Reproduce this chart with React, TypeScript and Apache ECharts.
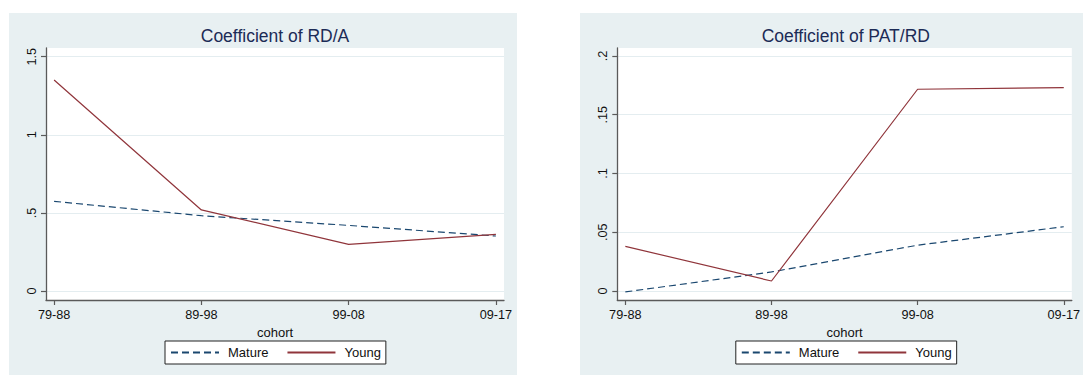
import React, { useEffect, useRef } from "react";
import * as echarts from "echarts";

const categories = ["79-88", "89-98", "99-08", "09-17"];
const seriesNames = ["Mature", "Young"];
const rdaMature = [0.574, 0.482, 0.42, 0.352];
const rdaYoung = [1.351, 0.519, 0.299, 0.363];
const patMature = [-0.0008, 0.0162, 0.039, 0.0547];
const patYoung = [0.038, 0.0085, 0.1717, 0.173];
const rdaTicks = [0, 0.5, 1, 1.5];
const patTicks = [0, 0.05, 0.1, 0.15, 0.2];
const xTicks = [0, 1, 2, 3];
const titles = ["Coefficient of RD/A", "Coefficient of PAT/RD"];

const FONT = "'Liberation Sans', Arial, sans-serif";
const BG = "#e8f0f2";
const NAVY = "#1a476f";
const MAROON = "#90353b";
const AXIS = "#5a5a5a";
const GRID = "#e4edf0";
const TEXT = "#111111";

const stataFmt = (v: number) => {
  const s = String(Math.round(v * 1000) / 1000);
  if (s.startsWith("0.")) return s.slice(1);
  if (s.startsWith("-0.")) return "-" + s.slice(2);
  return s;
};

const toPairs = (arr: number[]) => arr.map((v, i) => [i, v]);

export default function App() {
  const ref = useRef<HTMLDivElement>(null);
  useEffect(() => {
    if (!ref.current) return;
    const chart = echarts.init(ref.current, undefined, { renderer: "svg" });

    const panels = [
      { left: 46, width: 458, ymin: -0.0576, ymax: 1.5557, ticks: rdaTicks, mature: rdaMature, young: rdaYoung, bgX: 9, bgW: 508 },
      { left: 617.3, width: 457, ymin: -0.00766, ymax: 0.2068, ticks: patTicks, mature: patMature, young: patYoung, bgX: 580, bgW: 503 },
    ];

    const option: any = {
      animation: false,
      textStyle: { fontFamily: FONT },
      graphic: panels.map((p) => ({
        type: "rect",
        z: -10,
        silent: true,
        shape: { x: p.bgX, y: 13, width: p.bgW, height: 362 },
        style: { fill: BG },
      })),
      title: panels.map((p, i) => ({
        text: titles[i],
        left: p.left + p.width / 2,
        top: 27,
        textAlign: "center",
        padding: 0,
        textStyle: { fontFamily: FONT, fontSize: 17.5, fontWeight: "normal", color: "#1c2b56" },
      })),
      legend: panels.map((p, i) => ({
        data: seriesNames,
        left: p.left + p.width / 2 - 110,
        top: 341,
        orient: "horizontal",
        padding: [5, 5, 5, 5],
        itemWidth: 48,
        itemHeight: 14,
        itemGap: 18,
        borderColor: "#222",
        borderWidth: 1,
        borderRadius: 0,
        backgroundColor: "#ffffff",
        itemStyle: { opacity: 0, borderWidth: 0 },
        textStyle: { fontFamily: FONT, fontSize: 13, color: TEXT, padding: [0, 0, 0, 4] },
        selectedMode: false,
        seriesIndex: [i * 2, i * 2 + 1],
      })),
      grid: panels.map((p) => ({
        left: p.left,
        width: p.width,
        top: 48,
        height: 252,
        show: true,
        backgroundColor: "#ffffff",
        borderWidth: 0,
        containLabel: false,
      })),
      xAxis: panels.map((p, i) => ({
        type: "value",
        gridIndex: i,
        min: -0.055,
        max: 3.055,
        name: "cohort",
        nameLocation: "middle",
        nameGap: 20,
        nameTextStyle: { fontFamily: FONT, fontSize: 13, color: TEXT },
        axisLine: { show: true, onZero: false, lineStyle: { color: AXIS, width: 1.3 } },
        axisTick: { show: true, length: 5, customValues: xTicks, lineStyle: { color: AXIS, width: 1.2 } },
        axisLabel: {
          show: true,
          customValues: xTicks,
          margin: 8,
          fontFamily: FONT,
          fontSize: 12.7,
          color: TEXT,
          formatter: (v: number) => categories[Math.round(v)] ?? "",
        },
        splitLine: { show: false },
      })),
      yAxis: panels.map((p, i) => ({
        type: "value",
        gridIndex: i,
        min: p.ymin,
        max: p.ymax,
        axisLine: { show: true, onZero: false, lineStyle: { color: AXIS, width: 1.3 } },
        axisTick: { show: true, length: 5, customValues: p.ticks, lineStyle: { color: AXIS, width: 1.2 } },
        axisLabel: {
          show: true,
          customValues: p.ticks,
          rotate: 90,
          margin: 8,
          fontFamily: FONT,
          fontSize: 12.7,
          color: TEXT,
          formatter: (v: number) => stataFmt(v),
        },
        splitLine: { show: true, lineStyle: { color: GRID, width: 1.2 } },
      })),
      series: panels.flatMap((p, i) => [
        {
          name: seriesNames[0],
          type: "line",
          xAxisIndex: i,
          yAxisIndex: i,
          data: toPairs(p.mature),
          symbol: "none",
          lineStyle: { color: NAVY, width: 1.2, type: [7, 4] },
          itemStyle: { color: NAVY },
          z: 3,
        },
        {
          name: seriesNames[1],
          type: "line",
          xAxisIndex: i,
          yAxisIndex: i,
          data: toPairs(p.young),
          symbol: "none",
          lineStyle: { color: MAROON, width: 1.2 },
          itemStyle: { color: MAROON },
          z: 4,
        },
      ]),
    };
    chart.setOption(option);
    return () => chart.dispose();
  }, []);
  return (
    <div
      ref={ref}
      style={{ position: "absolute", left: 0, top: 0, width: 1083, height: 375, background: "#ffffff" }}
    />
  );
}
